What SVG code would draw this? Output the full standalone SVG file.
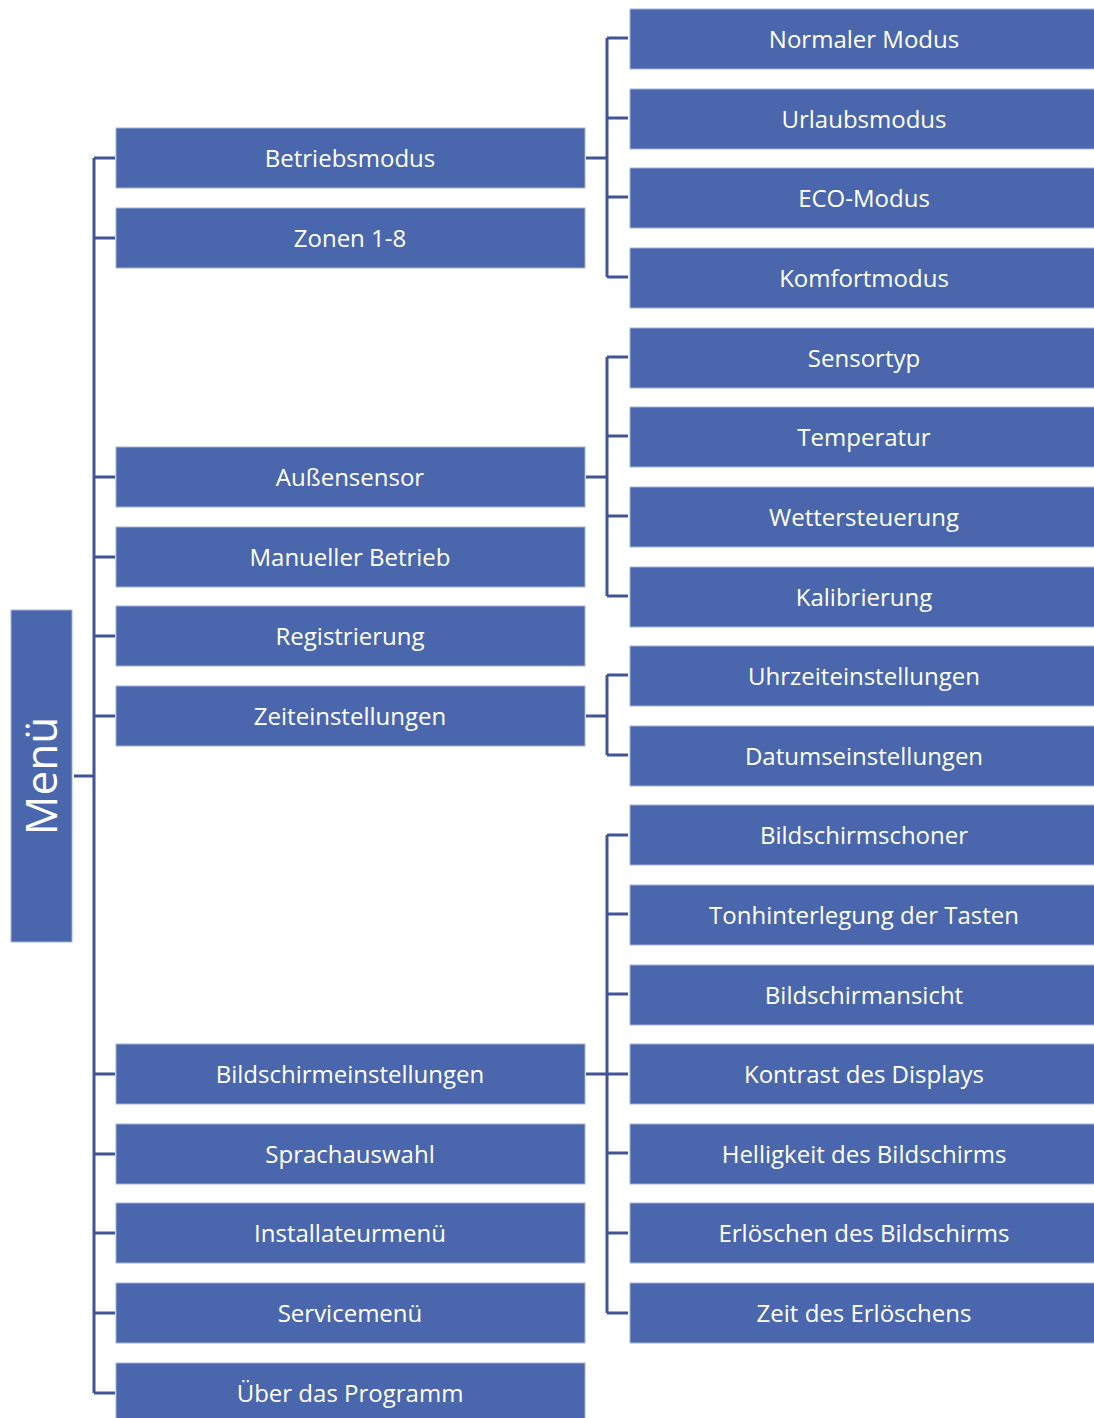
<svg xmlns="http://www.w3.org/2000/svg" width="1094" height="1418" viewBox="0 0 1094 1418">
<style>
.b{fill:#4A67AE;stroke:#A3B2D8;stroke-width:1}
.t{fill:#fff;font-family:"Open Sans","Noto Sans",sans-serif;font-size:24px;text-anchor:middle;dominant-baseline:central}
.c{fill:none;stroke:#3F5595;stroke-width:3}
</style>
<rect width="1094" height="1418" fill="#fff"/>
<g id="connectors">
<path class="c" d="M74 776H94M94 158V1393M94 158H115M94 238H115M94 477H115M94 557H115M94 636H115M94 716H115M94 1074H115M94 1154H115M94 1233H115M94 1313H115M94 1393H115"/>
<path class="c" d="M586 158H607M607 38V277M607 38H628M607 118H628M607 197H628M607 277H628"/>
<path class="c" d="M586 477H607M607 357V596M607 357H628M607 436H628M607 516H628M607 596H628"/>
<path class="c" d="M586 716H607M607 675V755M607 675H628M607 755H628"/>
<path class="c" d="M586 1074H607M607 835V1313M607 835H628M607 914H628M607 994H628M607 1074H628M607 1153H628M607 1233H628M607 1313H628"/>
</g>
<g id="menu"><rect class="b" x="11" y="610" width="61" height="332"/><text class="t" style="font-size:44px" transform="translate(40 776) rotate(-90)">Menü</text></g>
<g id="betriebsmodus"><rect class="b" x="116" y="128" width="469" height="60"/><text class="t" x="350" y="157">Betriebsmodus</text></g>
<g id="zonen"><rect class="b" x="116" y="208" width="469" height="60"/><text class="t" x="350" y="237">Zonen 1-8</text></g>
<g id="aussensensor"><rect class="b" x="116" y="447" width="469" height="60"/><text class="t" x="350" y="476">Außensensor</text></g>
<g id="manueller-betrieb"><rect class="b" x="116" y="527" width="469" height="60"/><text class="t" x="350" y="556">Manueller Betrieb</text></g>
<g id="registrierung"><rect class="b" x="116" y="606" width="469" height="60"/><text class="t" x="350" y="635">Registrierung</text></g>
<g id="zeiteinstellungen"><rect class="b" x="116" y="686" width="469" height="60"/><text class="t" x="350" y="715">Zeiteinstellungen</text></g>
<g id="bildschirmeinstellungen"><rect class="b" x="116" y="1044" width="469" height="60"/><text class="t" x="350" y="1073">Bildschirmeinstellungen</text></g>
<g id="sprachauswahl"><rect class="b" x="116" y="1124" width="469" height="60"/><text class="t" x="350" y="1153">Sprachauswahl</text></g>
<g id="installateurmenue"><rect class="b" x="116" y="1203" width="469" height="60"/><text class="t" x="350" y="1232">Installateurmenü</text></g>
<g id="servicemenue"><rect class="b" x="116" y="1283" width="469" height="60"/><text class="t" x="350" y="1312">Servicemenü</text></g>
<g id="ueber"><rect class="b" x="116" y="1363" width="469" height="60"/><text class="t" x="350" y="1392">Über das Programm</text></g>
<g id="normaler-modus"><rect class="b" x="630" y="9" width="470" height="60"/><text class="t" x="864" y="38">Normaler Modus</text></g>
<g id="urlaubsmodus"><rect class="b" x="630" y="89" width="470" height="60"/><text class="t" x="864" y="118">Urlaubsmodus</text></g>
<g id="eco-modus"><rect class="b" x="630" y="168" width="470" height="60"/><text class="t" x="864" y="197">ECO-Modus</text></g>
<g id="komfortmodus"><rect class="b" x="630" y="248" width="470" height="60"/><text class="t" x="864" y="277">Komfortmodus</text></g>
<g id="sensortyp"><rect class="b" x="630" y="328" width="470" height="60"/><text class="t" x="864" y="357">Sensortyp</text></g>
<g id="temperatur"><rect class="b" x="630" y="407" width="470" height="60"/><text class="t" x="864" y="436">Temperatur</text></g>
<g id="wettersteuerung"><rect class="b" x="630" y="487" width="470" height="60"/><text class="t" x="864" y="516">Wettersteuerung</text></g>
<g id="kalibrierung"><rect class="b" x="630" y="567" width="470" height="60"/><text class="t" x="864" y="596">Kalibrierung</text></g>
<g id="uhrzeit"><rect class="b" x="630" y="646" width="470" height="60"/><text class="t" x="864" y="675">Uhrzeiteinstellungen</text></g>
<g id="datum"><rect class="b" x="630" y="726" width="470" height="60"/><text class="t" x="864" y="755">Datumseinstellungen</text></g>
<g id="bildschirmschoner"><rect class="b" x="630" y="805" width="470" height="60"/><text class="t" x="864" y="834">Bildschirmschoner</text></g>
<g id="tonhinterlegung"><rect class="b" x="630" y="885" width="470" height="60"/><text class="t" x="864" y="914">Tonhinterlegung der Tasten</text></g>
<g id="bildschirmansicht"><rect class="b" x="630" y="965" width="470" height="60"/><text class="t" x="864" y="994">Bildschirmansicht</text></g>
<g id="kontrast"><rect class="b" x="630" y="1044" width="470" height="60"/><text class="t" x="864" y="1073">Kontrast des Displays</text></g>
<g id="helligkeit"><rect class="b" x="630" y="1124" width="470" height="60"/><text class="t" x="864" y="1153">Helligkeit des Bildschirms</text></g>
<g id="erloeschen"><rect class="b" x="630" y="1203" width="470" height="60"/><text class="t" x="864" y="1232">Erlöschen des Bildschirms</text></g>
<g id="zeit-erloeschens"><rect class="b" x="630" y="1283" width="470" height="60"/><text class="t" x="864" y="1312">Zeit des Erlöschens</text></g>
</svg>
